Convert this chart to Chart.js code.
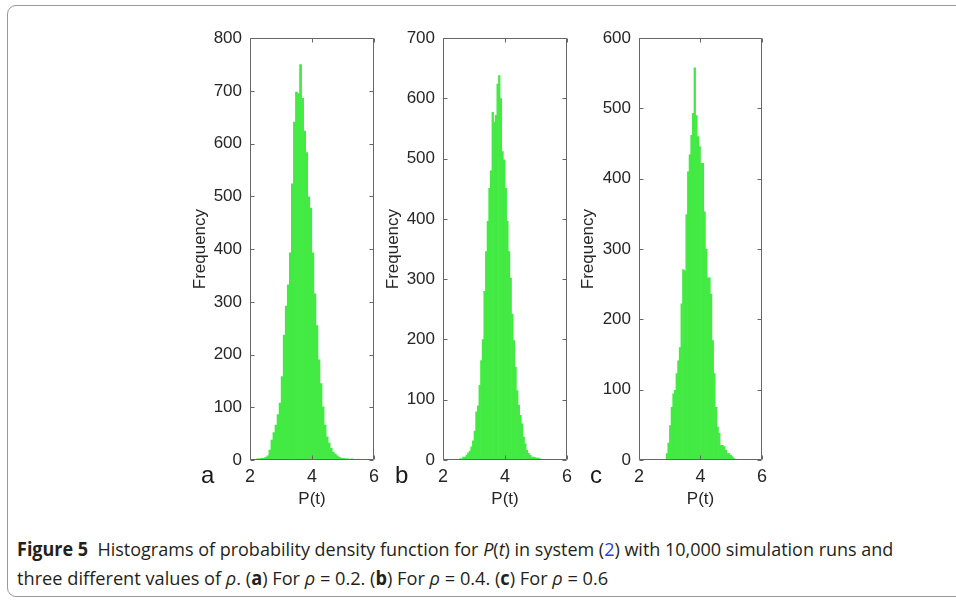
<!DOCTYPE html>
<html>
<head>
<meta charset="utf-8">
<script src="https://cdn.jsdelivr.net/npm/chart.js@4.4.0/dist/chart.umd.min.js"></script>
<style>
  html, body { margin: 0; padding: 0; background: #fff; }
  #page { position: relative; width: 956px; height: 602px; overflow: hidden; }
  #frame { position: absolute; left: 7px; top: 5px; width: 1000px; height: 592px;
           border: 1.5px solid #9a9a9a; border-radius: 9px; box-sizing: border-box; }
  canvas { position: absolute; }
  .tag { position: absolute; font: 24px "Liberation Sans", Arial, sans-serif; color: #1a1a1a; }
  .ln { position: absolute; left: 17px; white-space: nowrap; font: 19px "Open Sans", sans-serif;
        color: #231f20; line-height: 24px; transform-origin: 0 50%; display: inline-block; }
  .ln b { font-weight: 700; }
  .ref { color: #2a3fd6; }
</style>
</head>
<body>
<div id="page">
  <div id="frame"></div>
  <canvas id="chA" width="200" height="500"></canvas>
  <canvas id="chB" width="200" height="500"></canvas>
  <canvas id="chC" width="200" height="500"></canvas>
  <div class="tag" style="left:201px;top:461px">a</div>
  <div class="tag" style="left:395px;top:461px">b</div>
  <div class="tag" style="left:590px;top:461px">c</div>
  <div class="ln" id="l1"><b>Figure 5</b>&nbsp;&nbsp;Histograms of probability density function for <i>P</i>(<i>t</i>) in system (<span class="ref">2</span>) with 10,000 simulation runs and</div>
  <div class="ln" id="l2">three different values of <i>ρ</i>. (<b>a</b>) For <i>ρ</i> = 0.2. (<b>b</b>) For <i>ρ</i> = 0.4. (<b>c</b>) For <i>ρ</i> = 0.6</div>
</div>
<script>
// histogram bins: first bin centre and bin width per panel
const binStartA = 2.245, binWidthA = 0.066;
const binStartB = 2.553, binWidthB = 0.0526;
const binStartC = 2.9096, binWidthC = 0.0532;

// frequencies
const freqA = [2,2,3,3,5,8,19,38,52,66,86,108,158,237,292,332,393,524,641,698,695,750,686,624,583,499,478,393,315,255,190,145,101,66,44,32,22,15,11,8,5,3,3,2,2,1,2,1,1,1];
const freqB = [2,2,5,5,8,12,15,22,32,48,80,90,124,165,200,280,346,396,451,480,577,561,572,624,638,600,512,498,451,396,346,302,242,198,154,115,91,74,60,38,27,16,11,8,5,5,4,3,3,2];
const freqC = [9,24,49,75,94,99,123,141,160,222,271,269,349,410,434,462,493,558,490,460,446,422,422,353,300,259,259,236,170,123,75,47,38,21,21,19,14,9,9,7,5,2];

const yMaxA = 800, yMaxB = 700, yMaxC = 600;
const xTicks = [2, 4, 6];

const FONT = '"Liberation Sans", Arial, sans-serif';
const axisCol = '#666';
const barCol = '#43ea43';

// box round the plot with inward ticks, MATLAB style
const boxPlugin = {
  id: 'box',
  afterDraw(chart) {
    const { ctx, chartArea: a, scales: { x, y } } = chart;
    const L = Math.round(a.left) + 0.5, R = Math.round(a.right) - 0.5;
    const T = Math.round(a.top) + 0.5, B = Math.round(a.bottom) - 0.5;
    ctx.save();
    ctx.strokeStyle = axisCol;
    ctx.lineWidth = 1;
    ctx.beginPath();
    y.ticks.forEach(t => {
      const py = Math.round(y.getPixelForValue(t.value)) + 0.5;
      ctx.moveTo(L, py); ctx.lineTo(L + 4, py);
      ctx.moveTo(R, py); ctx.lineTo(R - 4, py);
    });
    x.ticks.forEach(t => {
      const px = Math.round(x.getPixelForValue(t.value)) + 0.5;
      ctx.moveTo(px, B); ctx.lineTo(px, B - 4);
      ctx.moveTo(px, T); ctx.lineTo(px, T + 4);
    });
    ctx.rect(L, T, R - L, B - T);
    ctx.stroke();
    ctx.restore();
  }
};

function makePanel(id, left, plotLeft, plotRight, start, width, freq, yMax) {
  const cv = document.getElementById(id);
  cv.style.left = left + 'px';
  cv.style.top = '20px';
  const points = freq.map((f, i) => ({ x: start + i * width, y: f }));
  return new Chart(cv, {
    type: 'bar',
    data: {
      datasets: [{
        data: points,
        backgroundColor: barCol,
        borderWidth: 0,
        barPercentage: 1,
        categoryPercentage: 1,
        grouped: false
      }]
    },
    options: {
      responsive: false,
      animation: false,
      layout: { padding: { left: 0, right: left + 200 - plotRight, top: 17, bottom: 10 } },
      plugins: { legend: { display: false }, tooltip: { enabled: false } },
      scales: {
        x: {
          type: 'linear',
          min: 2, max: 6,
          offset: false,
          afterBuildTicks: s => { s.ticks = xTicks.map(v => ({ value: v })); },
          afterFit: s => { s.height = 50; },
          grid: { display: false, drawTicks: false },
          border: { display: false },
          ticks: { padding: 6, color: '#262626', font: { family: FONT, size: 18 } },
          title: { display: true, text: 'P(t)', color: '#262626', padding: { top: 0, bottom: 0 },
                   font: { family: FONT, size: 17 } }
        },
        y: {
          min: 0, max: yMax,
          afterFit: s => { s.width = plotLeft - left; },
          grid: { display: false, drawTicks: false },
          border: { display: false },
          ticks: { stepSize: 100, padding: 8, color: '#262626', font: { family: FONT, size: 17 } },
          title: { display: true, text: 'Frequency', color: '#262626', padding: { top: 5, bottom: 0 },
                   font: { family: FONT, size: 17 } }
        }
      }
    },
    plugins: [boxPlugin]
  });
}

makePanel('chA', 185, 250, 375, binStartA, binWidthA, freqA, yMaxA);
makePanel('chB', 378, 443, 571, binStartB, binWidthB, freqB, yMaxB);
makePanel('chC', 573, 639, 764, binStartC, binWidthC, freqC, yMaxC);

// caption lines: squeeze to the condensed width of the original
function fitLine(id, top, w) {
  const el = document.getElementById(id);
  el.style.top = top + 'px';
  el.style.transform = 'scaleX(' + (w / el.offsetWidth) + ')';
}
fitLine('l1', 537, 876);
fitLine('l2', 566, 591);
</script>
</body>
</html>
